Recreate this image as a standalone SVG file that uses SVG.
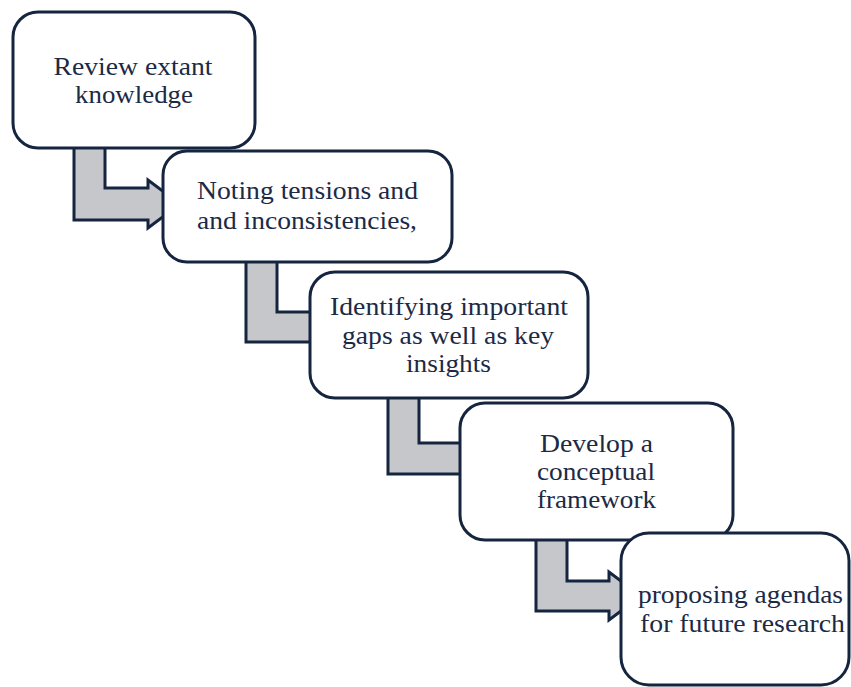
<svg xmlns="http://www.w3.org/2000/svg" width="851" height="687" viewBox="0 0 851 687">
  <style>
    .box { fill: #ffffff; stroke: #16253f; stroke-width: 3; }
    .arrow { fill: #c6c7cb; stroke: #16253f; stroke-width: 3; stroke-linejoin: miter; }
    .label { font-family: "Liberation Serif", "Times New Roman", serif; font-size: 25px; fill: #1c2a45; text-anchor: middle; }
  </style>
  <rect width="851" height="687" fill="#ffffff"/>

  <!-- elbow connectors between the steps -->
  <g id="connectors">
    <path class="arrow" d="M74,140 L105,140 L105,188 L148,188 L148,180 L180,204 L148,228 L148,220 L74,220 Z"/>
    <path class="arrow" d="M246,255 L277,255 L277,312 L318,312 L318,304 L350,327 L318,350 L318,342 L246,342 Z"/>
    <path class="arrow" d="M388,390 L419,390 L419,443 L468,443 L468,435 L500,458 L468,481 L468,474 L388,474 Z"/>
    <path class="arrow" d="M536,535 L567,535 L567,581 L609,581 L609,572 L641,596 L609,620 L609,611 L536,611 Z"/>
  </g>

  <g id="step1">
    <rect class="box" x="13" y="12" width="242" height="136" rx="25"/>
    <text class="label" x="133" y="75" textLength="159" lengthAdjust="spacingAndGlyphs">Review extant</text>
    <text class="label" x="134" y="103" textLength="118" lengthAdjust="spacingAndGlyphs">knowledge</text>
  </g>

  <g id="step2">
    <rect class="box" x="163" y="151" width="289" height="111" rx="24"/>
    <text class="label" x="307.5" y="199" textLength="221" lengthAdjust="spacingAndGlyphs">Noting tensions and</text>
    <text class="label" x="307" y="229" textLength="220" lengthAdjust="spacingAndGlyphs">and inconsistencies,</text>
  </g>

  <g id="step3">
    <rect class="box" x="310" y="272" width="278" height="126" rx="25"/>
    <text class="label" x="449" y="315" textLength="238" lengthAdjust="spacingAndGlyphs">Identifying important</text>
    <text class="label" x="448" y="344" textLength="212" lengthAdjust="spacingAndGlyphs">gaps as well as key</text>
    <text class="label" x="448.5" y="372" textLength="85" lengthAdjust="spacingAndGlyphs">insights</text>
  </g>

  <g id="step4">
    <rect class="box" x="460" y="403" width="273" height="137" rx="25"/>
    <text class="label" x="596.5" y="452" textLength="113" lengthAdjust="spacingAndGlyphs">Develop  a</text>
    <text class="label" x="596" y="480" textLength="118" lengthAdjust="spacingAndGlyphs">conceptual</text>
    <text class="label" x="596.5" y="508" textLength="119" lengthAdjust="spacingAndGlyphs">framework</text>
  </g>

  <g id="step5">
    <rect class="box" x="621" y="533" width="228" height="152" rx="28"/>
    <text class="label" x="740.5" y="603" textLength="205" lengthAdjust="spacingAndGlyphs">proposing agendas</text>
    <text class="label" x="742.5" y="632" textLength="205" lengthAdjust="spacingAndGlyphs">for future research</text>
  </g>
</svg>
